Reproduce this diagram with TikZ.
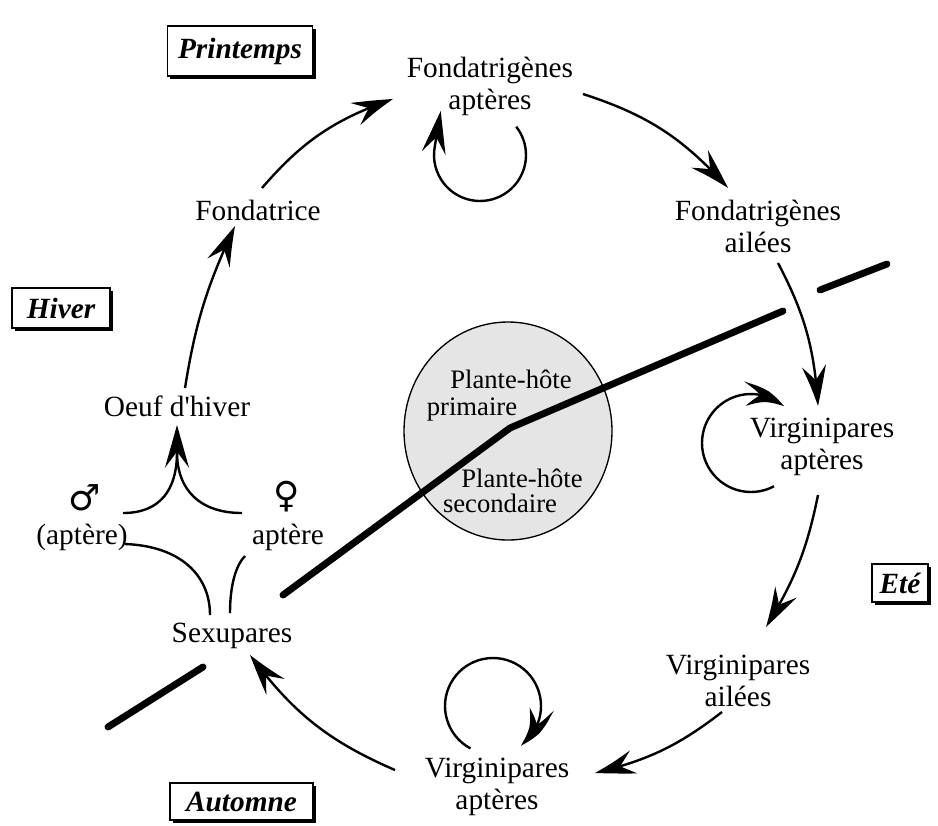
\documentclass[tikz,border=0pt]{standalone}
\usepackage{fontspec}
\setmainfont{Liberation Serif}
\newfontfamily\symfont{DejaVu Sans}
\usetikzlibrary{arrows.meta,bending,shapes.geometric,shadows}
\begin{document}
\begin{tikzpicture}[x=0.75pt,y=0.75pt,
  lbl/.style={font=\fontsize{22}{24}\selectfont, align=center, inner sep=0pt},
  sym/.style={font=\symfont\fontsize{27}{27}\selectfont, inner sep=0pt},
  plant/.style={font=\fontsize{20}{22}\selectfont, inner sep=0pt, anchor=base},
  season/.style={draw, line width=1.2pt, fill=white, inner sep=0pt,
    font=\fontsize{22}{24}\selectfont\bfseries\itshape,
    general shadow={fill=black, shadow xshift=2.2pt, shadow yshift=-2.2pt}},
  arr/.style={line width=1.8pt, -{Stealth[length=32pt,width=18pt,inset=12pt,bend]}},
  cyc/.style={line width=1.8pt},
  thickl/.style={line width=5.2pt, line cap=round, line join=round}]

\useasboundingbox (0,0) rectangle (938,-825);

% host plant circle
\node[ellipse, draw, line width=1pt, fill=gray!20, minimum width=156pt,
      minimum height=163.5pt, inner sep=0pt] (host) at (508,-431) {};
\node[plant] (p1) at (511,-388) {Plante-hôte};
\node[plant] (p2) at (472,-415) {primaire};
\node[plant] (p3) at (522,-487) {Plante-hôte};
\node[plant] (p4) at (500,-512) {secondaire};

% thick separator lines
\draw[thickl] (283,-595) -- (510,-428) -- (783,-311);
\draw[thickl] (820,-290) -- (887,-264);
\draw[thickl] (108,-727) -- (203,-667);

% seasons
\node[season, minimum width=109pt, minimum height=37.5pt] (spring) at (240,-51) {Printemps};
\node[season, minimum width=73.5pt, minimum height=30pt] (winter) at (61,-308) {Hiver};
\node[season, minimum width=42pt, minimum height=28.5pt] (summer) at (900,-583) {Eté};
\node[season, minimum width=107pt, minimum height=28pt] (autumn) at (241.5,-801.5) {Automne};

% stages
\node[lbl] (fa) at (490,-86) {Fondatrigènes\\aptères};
\node[lbl] (fal) at (758,-226) {Fondatrigènes\\ailées};
\node[lbl] (var) at (822,-447) {Virginipares\\aptères};
\node[lbl] (vai) at (738,-681) {Virginipares\\ailées};
\node[lbl] (vab) at (497,-787) {Virginipares\\aptères};
\node[lbl] (sex) at (232,-636) {Sexupares};
\node[sym] (male) at (85,-498) {♂};
\node[lbl] (maleapt) at (82,-537) {(aptère)};
\node[sym] (fem) at (287,-497) {♀};
\node[lbl] (femapt) at (288,-537) {aptère};
\node[lbl] (oeuf) at (177,-406) {Oeuf d\textquotesingle hiver};
\node[lbl] (fond) at (258,-210) {Fondatrice};

% connector end points
\coordinate (c1s) at (262,-188); \coordinate (c1e) at (393,-99);
\coordinate (c2s) at (185,-388); \coordinate (c2e) at (235,-226);
\coordinate (c3s) at (583,-94);  \coordinate (c3e) at (728,-188);
\coordinate (c5s) at (778,-263); \coordinate (c5e) at (818,-406);
\coordinate (c7s) at (818,-495); \coordinate (c7e) at (766,-627);
\coordinate (c8s) at (722,-712); \coordinate (c8e) at (595,-773);
\coordinate (c10s) at (395,-770); \coordinate (c10e) at (250,-655);
\coordinate (loopa) at (480,-155);
\coordinate (loopb) at (751,-443);
\coordinate (loopc) at (493,-706);
\coordinate (merge) at (177,-452);
\coordinate (eggtip) at (177,-425);

% cycle arrows
\draw[arr] (c1s) to[bend left=15] (c1e);
\draw[arr] (c2s) to[bend left=8] (c2e);
\draw[arr] (c3s) to[bend left=15] (c3e);
\draw[arr] (c5s) to[bend left=12] (c5e);
\draw[arr] (c7s) to[bend left=10] (c7e);
\draw[arr] (c8s) to[bend left=12] (c8e);
\draw[arr] (c10s) to[bend left=15] (c10e);

% self loops
\draw[arr] (loopa) ++(38:46) arc[start angle=38, end angle=-190, radius=46] -- ++(6,36);
\draw[arr] (loopb) ++(-62:49) arc[start angle=-62, end angle=-312, radius=49];
\draw[arr] (loopc) ++(-118:48) arc[start angle=-118, end angle=-415, radius=48];

% sexual forms
\draw[cyc] (210,-615) .. controls (210,-575) and (180,-546) .. (125,-544);
\draw[cyc] (230,-613) .. controls (230,-585) and (236,-565) .. (245,-556);
\draw[cyc] (123,-513) .. controls (160,-513) and (177,-490) .. (merge);
\draw[cyc] (242,-513) .. controls (200,-513) and (177,-490) .. (merge);
\draw[arr] (merge) -- (eggtip);
\end{tikzpicture}
\end{document}
